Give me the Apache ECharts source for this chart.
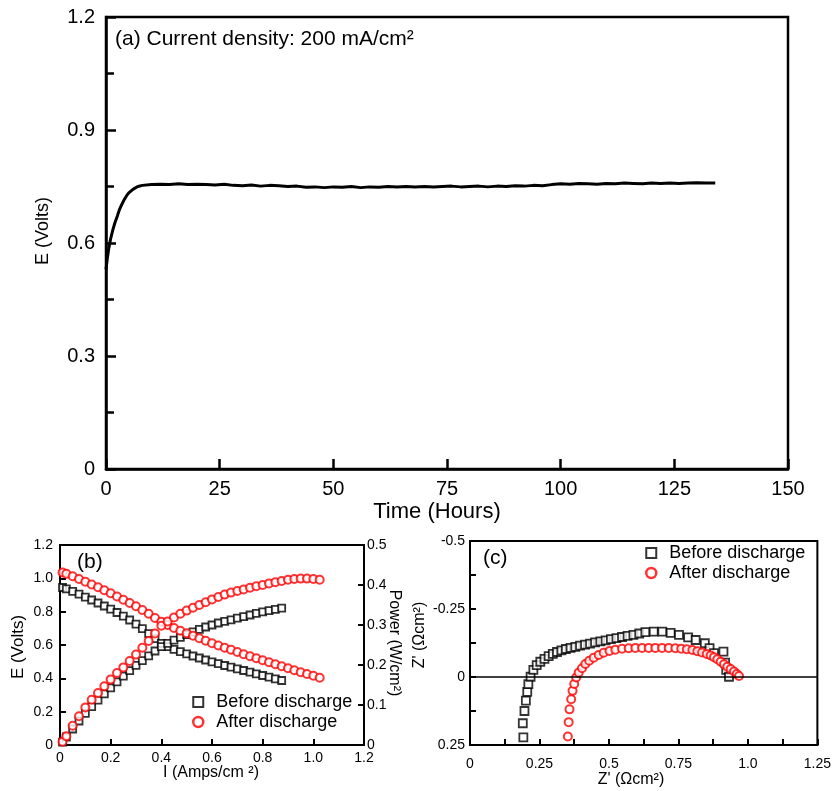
<!DOCTYPE html>
<html>
<head>
<meta charset="utf-8">
<script src="https://cdn.jsdelivr.net/npm/echarts@6/dist/echarts.min.js"></script>
<style>html,body{margin:0;padding:0;background:#fff;}#chart{width:834px;height:791px;}</style>
</head>
<body>
<div id="chart"></div>
<script>
// ---- Panel (a): cell voltage vs time ----
const timeHours = [0, 0.3, 0.6, 1, 1.5, 2, 2.5, 3, 3.5, 4, 4.5, 5, 6, 7, 8,
  10, 12, 14, 16, 18, 20, 22, 24, 26, 28,
  30, 32, 34, 36, 38, 40, 42, 44, 46, 48,
  50, 52, 54, 56, 58, 60, 62, 64, 66, 68,
  70, 72, 74, 76, 78, 80, 82, 84, 86, 88,
  90, 92, 94, 96, 98, 100, 102, 104, 106, 108,
  110, 112, 114, 116, 118, 120, 122, 124, 126, 128,
  130, 132, 134];
const voltageA = [0.53, 0.56, 0.585, 0.61, 0.635, 0.655, 0.672, 0.69, 0.703, 0.715, 0.725, 0.733, 0.743, 0.750, 0.753,
  0.755, 0.756, 0.755, 0.757, 0.755, 0.756, 0.755, 0.754, 0.756, 0.753,
  0.752, 0.754, 0.751, 0.753, 0.752, 0.750, 0.751, 0.748, 0.749, 0.747,
  0.749, 0.748, 0.750, 0.747, 0.749, 0.748, 0.750, 0.749, 0.750, 0.749,
  0.750, 0.749, 0.750, 0.751, 0.749, 0.750, 0.751, 0.749, 0.751, 0.750,
  0.752, 0.751, 0.753, 0.752, 0.755, 0.757, 0.756, 0.758, 0.757, 0.756,
  0.758, 0.757, 0.759, 0.758, 0.757, 0.759, 0.758, 0.759, 0.758, 0.759,
  0.760, 0.759, 0.759];

// ---- Panel (b): polarization & power curves ----
const currentBefore = [0.01, 0.025, 0.05, 0.075, 0.1, 0.125, 0.15, 0.175, 0.2, 0.225,
  0.25, 0.275, 0.3, 0.325, 0.35, 0.375, 0.4, 0.425, 0.45, 0.475,
  0.5, 0.525, 0.55, 0.575, 0.6, 0.625, 0.65, 0.675, 0.7, 0.725,
  0.75, 0.775, 0.8, 0.825, 0.85, 0.875];
const voltageBefore = [0.945, 0.937, 0.922, 0.905, 0.887, 0.870, 0.852, 0.834, 0.815, 0.795,
  0.773, 0.750, 0.725, 0.698, 0.668, 0.638, 0.610, 0.590, 0.574, 0.560,
  0.547, 0.534, 0.522, 0.510, 0.499, 0.488, 0.477, 0.467, 0.457, 0.447,
  0.437, 0.427, 0.417, 0.407, 0.397, 0.387];
const powerBefore = [0.007, 0.020, 0.040, 0.060, 0.079, 0.096, 0.112, 0.128, 0.143, 0.158,
  0.172, 0.186, 0.199, 0.211, 0.223, 0.235, 0.246, 0.254, 0.262, 0.269,
  0.276, 0.283, 0.289, 0.295, 0.300, 0.305, 0.309, 0.313, 0.317, 0.321,
  0.325, 0.329, 0.333, 0.336, 0.339, 0.342];
const currentAfter = [0.01, 0.025, 0.05, 0.075, 0.1, 0.125, 0.15, 0.175, 0.2, 0.225,
  0.25, 0.275, 0.3, 0.325, 0.35, 0.375, 0.4, 0.425, 0.45, 0.475,
  0.5, 0.525, 0.55, 0.575, 0.6, 0.625, 0.65, 0.675, 0.7, 0.725,
  0.75, 0.775, 0.8, 0.825, 0.85, 0.875, 0.9, 0.925, 0.95, 0.975,
  1.0, 1.025];
const voltageAfter = [1.035, 1.027, 1.012, 0.996, 0.980, 0.963, 0.946, 0.928, 0.910, 0.891,
  0.872, 0.852, 0.832, 0.810, 0.787, 0.762, 0.740, 0.720, 0.702, 0.685,
  0.670, 0.655, 0.640, 0.625, 0.610, 0.597, 0.584, 0.571, 0.558, 0.545,
  0.532, 0.520, 0.508, 0.496, 0.484, 0.472, 0.460, 0.448, 0.437, 0.426,
  0.415, 0.404];
const powerAfter = [0.008, 0.022, 0.048, 0.072, 0.094, 0.113, 0.130, 0.147, 0.164, 0.180,
  0.194, 0.210, 0.226, 0.243, 0.260, 0.279, 0.298, 0.309, 0.319, 0.328,
  0.336, 0.343, 0.350, 0.357, 0.364, 0.370, 0.376, 0.381, 0.385, 0.389,
  0.393, 0.397, 0.400, 0.404, 0.407, 0.410, 0.413, 0.415, 0.416, 0.416,
  0.415, 0.413];

// ---- Panel (c): impedance spectra ----
const zReBefore = [0.192, 0.190, 0.196, 0.201, 0.206, 0.210, 0.218, 0.228, 0.240, 0.253,
  0.268, 0.283, 0.298, 0.313, 0.329, 0.345, 0.362, 0.379, 0.396, 0.414,
  0.432, 0.450, 0.469, 0.488, 0.507, 0.527, 0.547, 0.567, 0.588, 0.609,
  0.631, 0.661, 0.692, 0.722, 0.752, 0.785, 0.812, 0.845, 0.862, 0.878,
  0.912, 0.918, 0.922, 0.932];
const zImBefore = [0.222, 0.170, 0.125, 0.087, 0.055, 0.026, -0.001, -0.026, -0.044, -0.056,
  -0.067, -0.077, -0.085, -0.092, -0.098, -0.103, -0.107, -0.111, -0.115, -0.119,
  -0.123, -0.127, -0.131, -0.135, -0.139, -0.143, -0.147, -0.151, -0.155, -0.160,
  -0.165, -0.167, -0.167, -0.162, -0.155, -0.146, -0.136, -0.124, -0.106, -0.088,
  -0.093, -0.053, -0.026, -0.001];
const zReAfter = [0.352, 0.355, 0.358, 0.364, 0.369, 0.375, 0.382, 0.391, 0.403, 0.415,
  0.429, 0.445, 0.463, 0.481, 0.502, 0.523, 0.547, 0.571, 0.595, 0.619,
  0.643, 0.667, 0.691, 0.715, 0.739, 0.760, 0.780, 0.800, 0.818, 0.835,
  0.852, 0.866, 0.878, 0.890, 0.902, 0.914, 0.926, 0.938, 0.950, 0.960,
  0.968];
const zImAfter = [0.219, 0.166, 0.119, 0.082, 0.051, 0.026, 0.002, -0.016, -0.032, -0.048,
  -0.060, -0.071, -0.081, -0.089, -0.096, -0.100, -0.104, -0.106, -0.107, -0.107,
  -0.107, -0.107, -0.107, -0.107, -0.106, -0.104, -0.102, -0.099, -0.095, -0.090,
  -0.085, -0.079, -0.073, -0.065, -0.056, -0.047, -0.038, -0.029, -0.020, -0.011,
  -0.004];

const seriesNames = ['Before discharge', 'After discharge'];
const axisTitles = {
  aX: 'Time (Hours)', aY: 'E (Volts)',
  bX: 'I (Amps/cm ²)', bY: 'E (Volts)', bY2: 'Power (W/cm²)',
  cX: "Z' (Ωcm²)", cY: "Z' (Ωcm²)"
};
// axis ranges [min, max]
const rangeA = { x: [0, 150], y: [0, 1.2] };
const rangeB = { x: [0, 1.2], y: [0, 1.2], y2: [0, 0.5] };
const rangeC = { x: [0, 1.25], y: [-0.5, 0.25] };

const pairs = (xs, ys) => xs.map((x, i) => [x, ys[i]]);
const fmt1 = v => (v === 0 ? '0' : v.toFixed(1));
const fmtC = v => (v === 0 ? '0' : v === 1 ? '1.0' : String(+v.toFixed(2)));
const FONT = '"Liberation Sans", Arial, Helvetica, sans-serif';
const BLACK = '#000';
const RED = '#ff0000';

function ticks(w, len) {
  return { show: true, inside: true, length: len, lineStyle: { color: BLACK, width: w } };
}
function minor(w, len) {
  return { show: true, splitNumber: 2, length: len, lineStyle: { color: BLACK, width: w } };
}
function yLine(w) {
  return { show: true, onZero: false, lineStyle: { color: BLACK, width: w } };
}
function xLine(w, onZeroAxisIndex) {
  const l = { show: true, lineStyle: { color: BLACK, width: w } };
  if (onZeroAxisIndex != null) l.onZeroAxisIndex = onZeroAxisIndex;
  return l;
}
function label(fs, margin, formatter) {
  const l = { color: BLACK, fontSize: fs, fontFamily: FONT, margin };
  if (formatter) l.formatter = formatter;
  return l;
}
// box frame drawn through the axes' own scales
function frame(range, w) {
  return { silent: true, label: { show: false },
    itemStyle: { color: 'rgba(0,0,0,0)', borderColor: BLACK, borderWidth: w },
    data: [[{ xAxis: range.x[0], yAxis: range.y[0] }, { xAxis: range.x[1], yAxis: range.y[1] }]] };
}
function axisTitle(text, x, y, fontSize, rotation) {
  return { type: 'text', x, y, rotation: rotation || 0, silent: true,
    style: { text, fontSize, fontFamily: FONT, fill: BLACK, align: 'center', verticalAlign: 'middle' } };
}

const chart = echarts.init(document.getElementById('chart'));

const blackSquare = { color: '#fff', borderColor: BLACK, borderWidth: 1.8 };
const redCircle = { color: '#fff', borderColor: RED, borderWidth: 2 };

const legendStyle = { fontSize: 18, color: BLACK, fontFamily: FONT, lineHeight: 20, padding: [0, 0, 0, 8] };
const legendData = [
  { name: seriesNames[0], icon: 'rect', itemStyle: { color: '#fff', borderColor: BLACK, borderWidth: 2 } },
  { name: seriesNames[1], icon: 'circle', itemStyle: { color: '#fff', borderColor: RED, borderWidth: 2.5 } }
];
const titleStyle = { fontSize: 21, fontWeight: 'normal', color: BLACK, fontFamily: FONT };

chart.setOption({
  animation: false,
  title: [
    { text: '(a) Current density: 200 mA/cm²', left: 115, top: 29, padding: 0, textStyle: titleStyle },
    { text: '(b)', left: 77, top: 552, padding: 0, textStyle: titleStyle },
    { text: '(c)', left: 483, top: 548, padding: 0, textStyle: titleStyle }
  ],
  legend: [
    { orient: 'vertical', left: 192, top: 692, padding: 0, itemWidth: 10, itemHeight: 10, itemGap: 0,
      textStyle: legendStyle, selectedMode: false, data: legendData },
    { orient: 'vertical', left: 645, top: 543, padding: 0, itemWidth: 10, itemHeight: 10, itemGap: 0,
      textStyle: legendStyle, selectedMode: false, data: legendData }
  ],
  graphic: [
    axisTitle(axisTitles.aX, 437, 512, 22),
    axisTitle(axisTitles.aY, 43, 231, 18, Math.PI / 2),
    axisTitle(axisTitles.bX, 211, 773, 16),
    axisTitle(axisTitles.bY, 18, 647, 17, Math.PI / 2),
    axisTitle(axisTitles.bY2, 394, 643, 16, -Math.PI / 2),
    axisTitle(axisTitles.cX, 631, 780, 16),
    axisTitle(axisTitles.cY, 420, 635, 16, Math.PI / 2)
  ],
  grid: [
    { left: 106, top: 17, width: 682, height: 452 },
    { left: 60, top: 545, width: 304, height: 200 },
    { left: 470, top: 541, width: 348, height: 204 }
  ],
  xAxis: [
    { type: 'value', gridIndex: 0, min: rangeA.x[0], max: rangeA.x[1], interval: 25, splitLine: { show: false },
      axisLine: xLine(2.5), axisTick: ticks(2.5, 10), axisLabel: label(20, 10) },
    { type: 'value', gridIndex: 1, min: rangeB.x[0], max: rangeB.x[1], interval: 0.2, splitLine: { show: false },
      axisLine: xLine(2), axisTick: ticks(2, 6), axisLabel: label(14, 6, fmt1) },
    { type: 'value', gridIndex: 2, min: rangeC.x[0], max: rangeC.x[1], interval: 0.25, splitLine: { show: false },
      axisLine: xLine(2, 4), axisTick: ticks(2, 6), axisLabel: label(14, 12, fmtC), minorTick: minor(2, 6) }
  ],
  yAxis: [
    { type: 'value', gridIndex: 0, min: rangeA.y[0], max: rangeA.y[1], interval: 0.3, splitLine: { show: false },
      axisLine: yLine(2.5), axisTick: ticks(2.5, 10), axisLabel: label(20, 11, fmt1), minorTick: minor(2.5, 8) },
    { type: 'value', gridIndex: 1, min: rangeB.y[0], max: rangeB.y[1], interval: 0.2, position: 'left', splitLine: { show: false },
      axisLine: yLine(2), axisTick: ticks(2, 6), axisLabel: label(14, 7, fmt1) },
    { type: 'value', gridIndex: 1, min: rangeB.y2[0], max: rangeB.y2[1], interval: 0.1, position: 'right', splitLine: { show: false },
      axisLine: yLine(2), axisTick: ticks(2, 6), axisLabel: label(14, 3, fmt1) },
    { type: 'value', gridIndex: 2, min: rangeC.y[0], max: rangeC.y[1], interval: 0.25, inverse: true, splitLine: { show: false },
      axisLine: yLine(2), axisTick: ticks(2, 6), axisLabel: label(14, 5, fmtC), minorTick: minor(2, 6) },
    // helper axis (never crosses zero) so panel (c)'s x axis stays at the bottom edge
    { type: 'value', gridIndex: 2, min: 1, max: 2, show: false, position: 'right' }
  ],
  series: [
    { type: 'line', name: 'E(t)', xAxisIndex: 0, yAxisIndex: 0, showSymbol: false, symbol: 'none',
      lineStyle: { color: BLACK, width: 3 }, data: pairs(timeHours, voltageA), z: 3,
      markArea: frame(rangeA, 2.5) },
    { type: 'scatter', name: seriesNames[0], xAxisIndex: 1, yAxisIndex: 1, symbol: 'rect', symbolSize: 7,
      itemStyle: blackSquare, data: pairs(currentBefore, voltageBefore), markArea: frame(rangeB, 2) },
    { type: 'scatter', name: seriesNames[0], xAxisIndex: 1, yAxisIndex: 2, symbol: 'rect', symbolSize: 7,
      itemStyle: blackSquare, data: pairs(currentBefore, powerBefore) },
    { type: 'scatter', name: seriesNames[1], xAxisIndex: 1, yAxisIndex: 1, symbol: 'circle', symbolSize: 8,
      itemStyle: redCircle, data: pairs(currentAfter, voltageAfter) },
    { type: 'scatter', name: seriesNames[1], xAxisIndex: 1, yAxisIndex: 2, symbol: 'circle', symbolSize: 8,
      itemStyle: redCircle, data: pairs(currentAfter, powerAfter) },
    { type: 'scatter', name: seriesNames[0], xAxisIndex: 2, yAxisIndex: 3, symbol: 'rect', symbolSize: 8,
      itemStyle: blackSquare, data: pairs(zReBefore, zImBefore), markArea: frame(rangeC, 2),
      markLine: { silent: true, symbol: ['none', 'none'], label: { show: false },
        lineStyle: { color: BLACK, width: 1.5, type: 'solid' }, data: [{ yAxis: 0 }] } },
    { type: 'scatter', name: seriesNames[1], xAxisIndex: 2, yAxisIndex: 3, symbol: 'circle', symbolSize: 8,
      itemStyle: { color: '#fff', borderColor: RED, borderWidth: 2 }, data: pairs(zReAfter, zImAfter) }
  ]
});
</script>
</body>
</html>
